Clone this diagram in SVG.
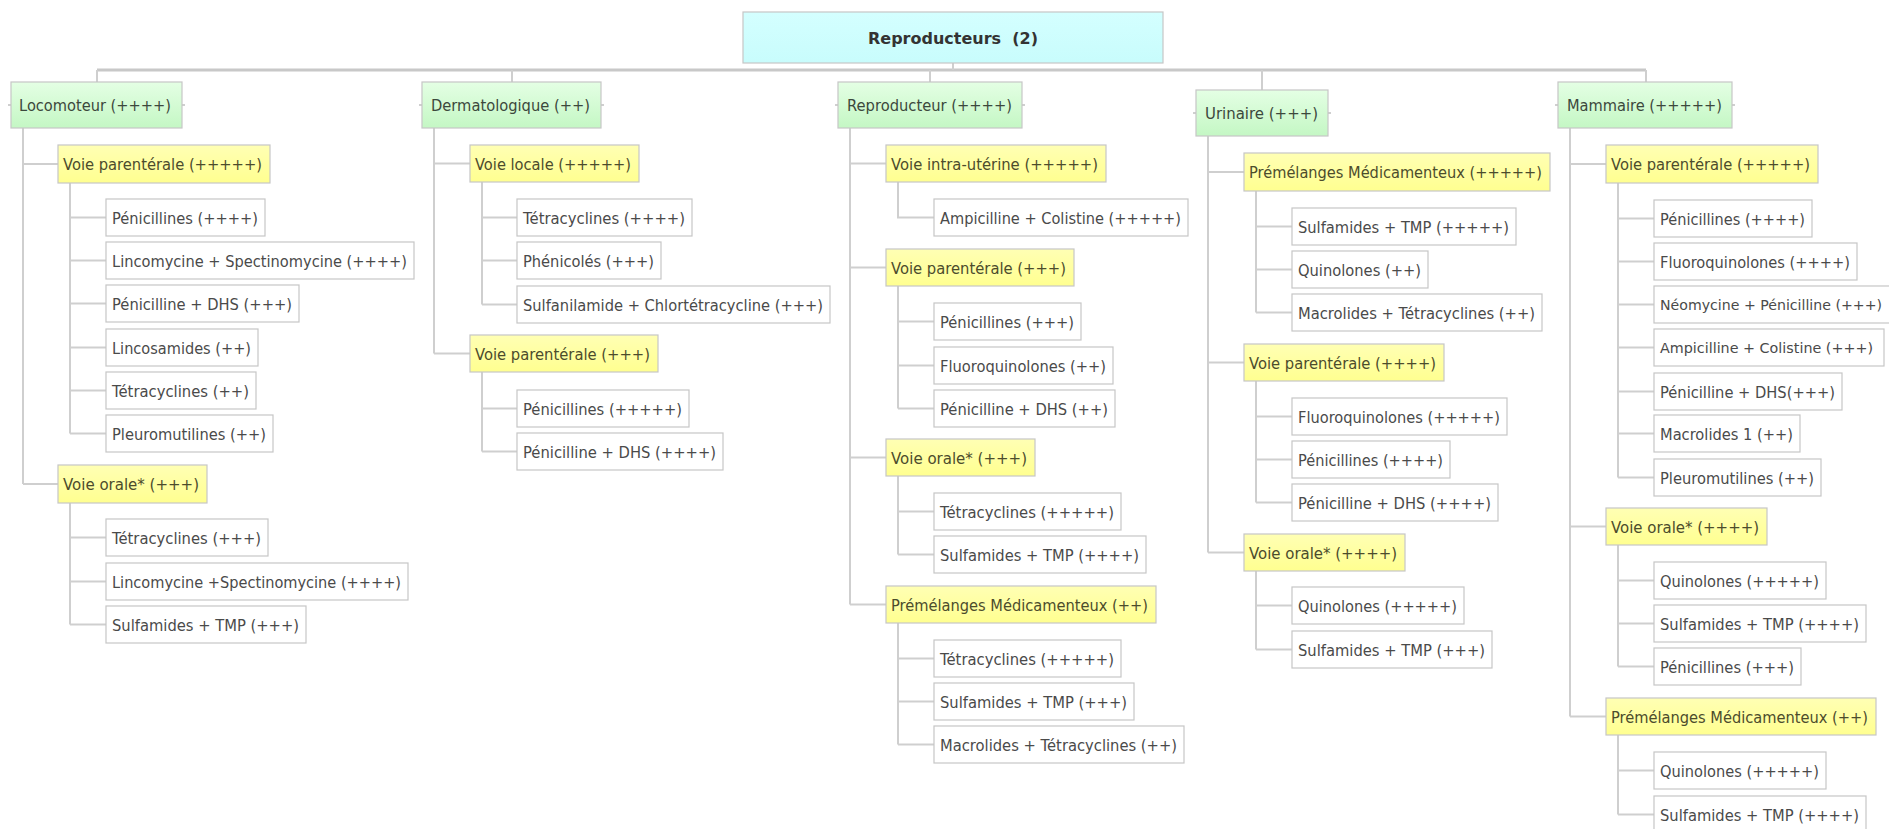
<svg xmlns="http://www.w3.org/2000/svg" width="1889" height="829" viewBox="0 0 1889 829">
<defs>
<linearGradient id="gGreen" x1="0" y1="0" x2="0" y2="1"><stop offset="0" stop-color="#e4ffe4"/><stop offset="1" stop-color="#c4f7c4"/></linearGradient>
<linearGradient id="gYellow" x1="0" y1="0" x2="0" y2="1"><stop offset="0" stop-color="#ffffb4"/><stop offset="1" stop-color="#ffff90"/></linearGradient>
<linearGradient id="gCyan" x1="0" y1="0" x2="0" y2="1"><stop offset="0" stop-color="#d4ffff"/><stop offset="1" stop-color="#c8fcfc"/></linearGradient>
</defs>
<style>
g rect{stroke:#c6c6c6;stroke-width:1.2}
.root rect{fill:url(#gCyan)}
.l1 rect{fill:url(#gGreen)}
.l2 rect{fill:url(#gYellow)}
.leaf rect{fill:#ffffff}
text{font-family:"DejaVu Sans","Verdana",sans-serif;font-size:16px}
.root text{font-weight:bold;fill:#333333;font-size:16.5px}
.l1 text{fill:#3c483c}
.l2 text{fill:#4c4c2c}
.leaf text{fill:#4a4a4a}
.leaf text.edge{font-size:14.2px}
#connectors path{fill:none;stroke:#cfcfcf;stroke-width:2}
#connectors .bus{stroke:#c8c8c8;stroke-width:3}
</style>
<rect x="0" y="0" width="1889" height="829" style="fill:#ffffff;stroke:none"/>
<g id="connectors">
<path class="bus" d="M97,70 H1646"/>
<path d="M953,63 V70 M97,70 V82 M512,70 V82 M930,70 V82 M1262,70 V90 M1646,70 V82"/>
<path d="M8,105 H11 M182,105 H185 M419,105 H422 M601,105 H604 M835,105 H838 M1022,105 H1025 M1193,113 H1196 M1328,113 H1331 M1555,105 H1558 M1732,105 H1735"/>
<path d="M23,128 V484 M23,164 H58 M23,484 H58"/>
<path d="M70,183 V433.5 M70,217.5 H106 M70,260.5 H106 M70,303.5 H106 M70,347.5 H106 M70,390.5 H106 M70,433.5 H106"/>
<path d="M70,503 V624.5 M70,537.5 H106 M70,581.5 H106 M70,624.5 H106"/>
<path d="M434,128 V353.5 M434,163.5 H470 M434,353.5 H470"/>
<path d="M482,182 V304.5 M482,217.5 H517 M482,260.5 H517 M482,304.5 H517"/>
<path d="M482,372 V451.5 M482,408.5 H517 M482,451.5 H517"/>
<path d="M850,128 V604.5 M850,163.5 H886 M850,267.5 H886 M850,457.5 H886 M850,604.5 H886"/>
<path d="M898,182 V217.5 H934"/>
<path d="M898,286 V408.5 M898,321.5 H934 M898,365.5 H934 M898,408.5 H934"/>
<path d="M898,476 V554.5 M898,511.5 H934 M898,554.5 H934"/>
<path d="M898,623 V744.5 M898,658.5 H934 M898,701.5 H934 M898,744.5 H934"/>
<path d="M1208,136 V552.5 M1208,172 H1244 M1208,362.5 H1244 M1208,552.5 H1244"/>
<path d="M1256,191 V312.5 M1256,226.5 H1292 M1256,269.5 H1292 M1256,312.5 H1292"/>
<path d="M1256,381 V502.5 M1256,416.5 H1292 M1256,459.5 H1292 M1256,502.5 H1292"/>
<path d="M1256,571 V649.5 M1256,605.5 H1292 M1256,649.5 H1292"/>
<path d="M1570,128 V716.5 M1570,164 H1606 M1570,526.5 H1606 M1570,716.5 H1606"/>
<path d="M1618,183 V477.5 M1618,218.5 H1654 M1618,261.5 H1654 M1618,304.5 H1654 M1618,347.5 H1654 M1618,391.5 H1654 M1618,433.5 H1654 M1618,477.5 H1654"/>
<path d="M1618,545 V666.5 M1618,580.5 H1654 M1618,623.5 H1654 M1618,666.5 H1654"/>
<path d="M1618,735 V814.5 M1618,770.5 H1654 M1618,814.5 H1654"/>
</g>

<g id="root" class="root"><rect x="743" y="12" width="420" height="51"/><text x="953" y="43.5" text-anchor="middle" xml:space="preserve" textLength="170" lengthAdjust="spacingAndGlyphs">Reproducteurs  (2)</text></g>

<g id="n-locomoteur" class="l1"><rect x="11" y="82" width="171" height="46"/><text x="19" y="111" textLength="152" lengthAdjust="spacingAndGlyphs">Locomoteur (++++)</text></g>
<g id="n-dermato" class="l1"><rect x="422" y="82" width="179" height="46"/><text x="431" y="111" textLength="159" lengthAdjust="spacingAndGlyphs">Dermatologique (++)</text></g>
<g id="n-reproducteur" class="l1"><rect x="838" y="82" width="184" height="46"/><text x="847" y="111" textLength="165" lengthAdjust="spacingAndGlyphs">Reproducteur (++++)</text></g>
<g id="n-urinaire" class="l1"><rect x="1196" y="90" width="132" height="46"/><text x="1205" y="119" textLength="113" lengthAdjust="spacingAndGlyphs">Urinaire (+++)</text></g>
<g id="n-mammaire" class="l1"><rect x="1558" y="82" width="174" height="46"/><text x="1567" y="111" textLength="155" lengthAdjust="spacingAndGlyphs">Mammaire (+++++)</text></g>

<g id="n-loco-vp" class="l2"><rect x="58" y="145" width="212" height="38"/><text x="63" y="170" textLength="199" lengthAdjust="spacingAndGlyphs">Voie parentérale (+++++)</text></g>
<g id="n-loco-vo" class="l2"><rect x="58" y="465" width="149" height="38"/><text x="63" y="490" textLength="136" lengthAdjust="spacingAndGlyphs">Voie orale* (+++)</text></g>
<g id="n-derm-vl" class="l2"><rect x="470" y="145" width="169" height="37"/><text x="475" y="169.5" textLength="156" lengthAdjust="spacingAndGlyphs">Voie locale (+++++)</text></g>
<g id="n-derm-vp" class="l2"><rect x="470" y="335" width="188" height="37"/><text x="475" y="359.5" textLength="175" lengthAdjust="spacingAndGlyphs">Voie parentérale (+++)</text></g>
<g id="n-repro-viu" class="l2"><rect x="886" y="145" width="220" height="37"/><text x="891" y="169.5" textLength="207" lengthAdjust="spacingAndGlyphs">Voie intra-utérine (+++++)</text></g>
<g id="n-repro-vp" class="l2"><rect x="886" y="249" width="188" height="37"/><text x="891" y="273.5" textLength="175" lengthAdjust="spacingAndGlyphs">Voie parentérale (+++)</text></g>
<g id="n-repro-vo" class="l2"><rect x="886" y="439" width="149" height="37"/><text x="891" y="463.5" textLength="136" lengthAdjust="spacingAndGlyphs">Voie orale* (+++)</text></g>
<g id="n-repro-pm" class="l2"><rect x="886" y="586" width="270" height="37"/><text x="891" y="610.5" textLength="257" lengthAdjust="spacingAndGlyphs">Prémélanges Médicamenteux (++)</text></g>
<g id="n-uri-pm" class="l2"><rect x="1244" y="153" width="306" height="38"/><text x="1249" y="178" textLength="293" lengthAdjust="spacingAndGlyphs">Prémélanges Médicamenteux (+++++)</text></g>
<g id="n-uri-vp" class="l2"><rect x="1244" y="344" width="200" height="37"/><text x="1249" y="368.5" textLength="187" lengthAdjust="spacingAndGlyphs">Voie parentérale (++++)</text></g>
<g id="n-uri-vo" class="l2"><rect x="1244" y="534" width="161" height="37"/><text x="1249" y="558.5" textLength="148" lengthAdjust="spacingAndGlyphs">Voie orale* (++++)</text></g>
<g id="n-mam-vp" class="l2"><rect x="1606" y="145" width="212" height="38"/><text x="1611" y="170" textLength="199" lengthAdjust="spacingAndGlyphs">Voie parentérale (+++++)</text></g>
<g id="n-mam-vo" class="l2"><rect x="1606" y="508" width="161" height="37"/><text x="1611" y="532.5" textLength="148" lengthAdjust="spacingAndGlyphs">Voie orale* (++++)</text></g>
<g id="n-mam-pm" class="l2"><rect x="1606" y="698" width="270" height="37"/><text x="1611" y="722.5" textLength="257" lengthAdjust="spacingAndGlyphs">Prémélanges Médicamenteux (++)</text></g>

<g id="lf-1" class="leaf"><rect x="106" y="199" width="159" height="37"/><text x="112" y="223.5" textLength="146" lengthAdjust="spacingAndGlyphs">Pénicillines (++++)</text></g>
<g id="lf-2" class="leaf"><rect x="106" y="242" width="308" height="37"/><text x="112" y="266.5" textLength="295" lengthAdjust="spacingAndGlyphs">Lincomycine + Spectinomycine (++++)</text></g>
<g id="lf-3" class="leaf"><rect x="106" y="285" width="193" height="37"/><text x="112" y="309.5" textLength="180" lengthAdjust="spacingAndGlyphs">Pénicilline + DHS (+++)</text></g>
<g id="lf-4" class="leaf"><rect x="106" y="329" width="152" height="37"/><text x="112" y="353.5" textLength="139" lengthAdjust="spacingAndGlyphs">Lincosamides (++)</text></g>
<g id="lf-5" class="leaf"><rect x="106" y="372" width="150" height="37"/><text x="112" y="396.5" textLength="137" lengthAdjust="spacingAndGlyphs">Tétracyclines (++)</text></g>
<g id="lf-6" class="leaf"><rect x="106" y="415" width="167" height="37"/><text x="112" y="439.5" textLength="154" lengthAdjust="spacingAndGlyphs">Pleuromutilines (++)</text></g>
<g id="lf-7" class="leaf"><rect x="106" y="519" width="162" height="37"/><text x="112" y="543.5" textLength="149" lengthAdjust="spacingAndGlyphs">Tétracyclines (+++)</text></g>
<g id="lf-8" class="leaf"><rect x="106" y="563" width="302" height="37"/><text x="112" y="587.5" textLength="289" lengthAdjust="spacingAndGlyphs">Lincomycine +Spectinomycine (++++)</text></g>
<g id="lf-9" class="leaf"><rect x="106" y="606" width="200" height="37"/><text x="112" y="630.5" textLength="187" lengthAdjust="spacingAndGlyphs">Sulfamides + TMP (+++)</text></g>

<g id="lf-10" class="leaf"><rect x="517" y="199" width="175" height="37"/><text x="523" y="223.5" textLength="162" lengthAdjust="spacingAndGlyphs">Tétracyclines (++++)</text></g>
<g id="lf-11" class="leaf"><rect x="517" y="242" width="144" height="37"/><text x="523" y="266.5" textLength="131" lengthAdjust="spacingAndGlyphs">Phénicolés (+++)</text></g>
<g id="lf-12" class="leaf"><rect x="517" y="286" width="313" height="37"/><text x="523" y="310.5" textLength="300" lengthAdjust="spacingAndGlyphs">Sulfanilamide + Chlortétracycline (+++)</text></g>
<g id="lf-13" class="leaf"><rect x="517" y="390" width="172" height="37"/><text x="523" y="414.5" textLength="159" lengthAdjust="spacingAndGlyphs">Pénicillines (+++++)</text></g>
<g id="lf-14" class="leaf"><rect x="517" y="433" width="206" height="37"/><text x="523" y="457.5" textLength="193" lengthAdjust="spacingAndGlyphs">Pénicilline + DHS (++++)</text></g>

<g id="lf-15" class="leaf"><rect x="934" y="199" width="254" height="37"/><text x="940" y="223.5" textLength="241" lengthAdjust="spacingAndGlyphs">Ampicilline + Colistine (+++++)</text></g>
<g id="lf-16" class="leaf"><rect x="934" y="303" width="147" height="37"/><text x="940" y="327.5" textLength="134" lengthAdjust="spacingAndGlyphs">Pénicillines (+++)</text></g>
<g id="lf-17" class="leaf"><rect x="934" y="347" width="179" height="37"/><text x="940" y="371.5" textLength="166" lengthAdjust="spacingAndGlyphs">Fluoroquinolones (++)</text></g>
<g id="lf-18" class="leaf"><rect x="934" y="390" width="181" height="37"/><text x="940" y="414.5" textLength="168" lengthAdjust="spacingAndGlyphs">Pénicilline + DHS (++)</text></g>
<g id="lf-19" class="leaf"><rect x="934" y="493" width="187" height="37"/><text x="940" y="517.5" textLength="174" lengthAdjust="spacingAndGlyphs">Tétracyclines (+++++)</text></g>
<g id="lf-20" class="leaf"><rect x="934" y="536" width="212" height="37"/><text x="940" y="560.5" textLength="199" lengthAdjust="spacingAndGlyphs">Sulfamides + TMP (++++)</text></g>
<g id="lf-21" class="leaf"><rect x="934" y="640" width="187" height="37"/><text x="940" y="664.5" textLength="174" lengthAdjust="spacingAndGlyphs">Tétracyclines (+++++)</text></g>
<g id="lf-22" class="leaf"><rect x="934" y="683" width="200" height="37"/><text x="940" y="707.5" textLength="187" lengthAdjust="spacingAndGlyphs">Sulfamides + TMP (+++)</text></g>
<g id="lf-23" class="leaf"><rect x="934" y="726" width="250" height="37"/><text x="940" y="750.5" textLength="237" lengthAdjust="spacingAndGlyphs">Macrolides + Tétracyclines (++)</text></g>

<g id="lf-24" class="leaf"><rect x="1292" y="208" width="224" height="37"/><text x="1298" y="232.5" textLength="211" lengthAdjust="spacingAndGlyphs">Sulfamides + TMP (+++++)</text></g>
<g id="lf-25" class="leaf"><rect x="1292" y="251" width="136" height="37"/><text x="1298" y="275.5" textLength="123" lengthAdjust="spacingAndGlyphs">Quinolones (++)</text></g>
<g id="lf-26" class="leaf"><rect x="1292" y="294" width="250" height="37"/><text x="1298" y="318.5" textLength="237" lengthAdjust="spacingAndGlyphs">Macrolides + Tétracyclines (++)</text></g>
<g id="lf-27" class="leaf"><rect x="1292" y="398" width="215" height="37"/><text x="1298" y="422.5" textLength="202" lengthAdjust="spacingAndGlyphs">Fluoroquinolones (+++++)</text></g>
<g id="lf-28" class="leaf"><rect x="1292" y="441" width="158" height="37"/><text x="1298" y="465.5" textLength="145" lengthAdjust="spacingAndGlyphs">Pénicillines (++++)</text></g>
<g id="lf-29" class="leaf"><rect x="1292" y="484" width="206" height="37"/><text x="1298" y="508.5" textLength="193" lengthAdjust="spacingAndGlyphs">Pénicilline + DHS (++++)</text></g>
<g id="lf-30" class="leaf"><rect x="1292" y="587" width="172" height="37"/><text x="1298" y="611.5" textLength="159" lengthAdjust="spacingAndGlyphs">Quinolones (+++++)</text></g>
<g id="lf-31" class="leaf"><rect x="1292" y="631" width="200" height="37"/><text x="1298" y="655.5" textLength="187" lengthAdjust="spacingAndGlyphs">Sulfamides + TMP (+++)</text></g>

<g id="lf-32" class="leaf"><rect x="1654" y="200" width="158" height="37"/><text x="1660" y="224.5" textLength="145" lengthAdjust="spacingAndGlyphs">Pénicillines (++++)</text></g>
<g id="lf-33" class="leaf"><rect x="1654" y="243" width="203" height="37"/><text x="1660" y="267.5" textLength="190" lengthAdjust="spacingAndGlyphs">Fluoroquinolones (++++)</text></g>
<g id="lf-34" class="leaf"><rect x="1654" y="286" width="240" height="37"/><text class="edge" x="1660" y="310" textLength="222" lengthAdjust="spacingAndGlyphs">Néomycine + Pénicilline (+++)</text></g>
<g id="lf-35" class="leaf"><rect x="1654" y="329" width="230" height="37"/><text class="edge" x="1660" y="353" textLength="213" lengthAdjust="spacingAndGlyphs">Ampicilline + Colistine (+++)</text></g>
<g id="lf-36" class="leaf"><rect x="1654" y="373" width="188" height="37"/><text x="1660" y="397.5" textLength="175" lengthAdjust="spacingAndGlyphs">Pénicilline + DHS(+++)</text></g>
<g id="lf-37" class="leaf"><rect x="1654" y="415" width="146" height="37"/><text x="1660" y="439.5" textLength="133" lengthAdjust="spacingAndGlyphs">Macrolides 1 (++)</text></g>
<g id="lf-38" class="leaf"><rect x="1654" y="459" width="167" height="37"/><text x="1660" y="483.5" textLength="154" lengthAdjust="spacingAndGlyphs">Pleuromutilines (++)</text></g>
<g id="lf-39" class="leaf"><rect x="1654" y="562" width="172" height="37"/><text x="1660" y="586.5" textLength="159" lengthAdjust="spacingAndGlyphs">Quinolones (+++++)</text></g>
<g id="lf-40" class="leaf"><rect x="1654" y="605" width="212" height="37"/><text x="1660" y="629.5" textLength="199" lengthAdjust="spacingAndGlyphs">Sulfamides + TMP (++++)</text></g>
<g id="lf-41" class="leaf"><rect x="1654" y="648" width="147" height="37"/><text x="1660" y="672.5" textLength="134" lengthAdjust="spacingAndGlyphs">Pénicillines (+++)</text></g>
<g id="lf-42" class="leaf"><rect x="1654" y="752" width="172" height="37"/><text x="1660" y="776.5" textLength="159" lengthAdjust="spacingAndGlyphs">Quinolones (+++++)</text></g>
<g id="lf-43" class="leaf"><rect x="1654" y="796" width="212" height="37"/><text x="1660" y="820.5" textLength="199" lengthAdjust="spacingAndGlyphs">Sulfamides + TMP (++++)</text></g>
</svg>
